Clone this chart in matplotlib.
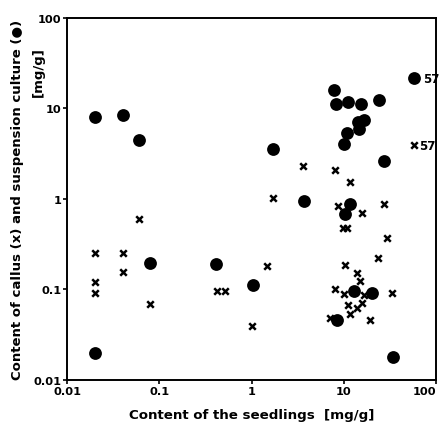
import matplotlib
matplotlib.use("Agg")
import matplotlib.pyplot as plt
import matplotlib.transforms as mtrans
from matplotlib.ticker import FixedLocator, NullLocator

# Suspension culture (filled circles)
circ_x = [0.02, 0.04, 0.06, 0.02, 0.08, 0.41, 1.04, 1.7, 3.7, 7.8, 8.3, 11.1, 15.3,
          24.2, 16.6, 14.1, 14.6, 10.8, 10.1, 27, 11.6, 10.2, 13, 20.2, 8.4, 33.8, 58]
circ_y = [8.0, 8.5, 4.5, 0.02, 0.195, 0.19, 0.113, 3.6, 0.96, 16, 11.2, 11.7, 11.2,
          12.4, 7.5, 7.1, 5.9, 5.3, 4.0, 2.65, 0.88, 0.68, 0.097, 0.091, 0.0465, 0.0178, 21.6]

# Callus (crosses)
cross_x = [0.02, 0.02, 0.02, 0.04, 0.04, 0.06, 0.08, 0.42, 0.52, 1.0, 1.46, 1.7, 3.64,
           7.9, 11.5, 8.7, 15.7, 27.3, 9.8, 10.7, 29.4, 23.2, 10.2, 13.7, 14.9, 8.0, 10.1,
           16.3, 33, 15.8, 11, 14, 11.7, 7.1, 19.3, 57]
cross_y = [0.25, 0.12, 0.091, 0.25, 0.157, 0.6, 0.07, 0.097, 0.097, 0.04, 0.183, 1.03, 2.33,
           2.09, 1.53, 0.83, 0.70, 0.88, 0.48, 0.48, 0.37, 0.224, 0.187, 0.152, 0.125, 0.10, 0.089,
           0.088, 0.091, 0.071, 0.067, 0.063, 0.054, 0.048, 0.0465, 3.9]

ticks = [0.01, 0.1, 1, 10, 100]
tick_labels = ["0.01", "0.1", "1", "10", "100"]
annot_text = "57"

fig = plt.figure(figsize=(4.47, 4.31), dpi=100)
ax = fig.add_axes([0.150, 0.116, 0.826, 0.840])
ax.set_xscale("log")
ax.set_yscale("log")
ax.set_xlim(0.01, 100)
ax.set_ylim(0.01, 100)

ax.scatter(circ_x, circ_y, s=85, c="black", marker="o", linewidths=0, zorder=3)
ax.scatter(cross_x, cross_y, s=22, c="black", marker="x", linewidths=1.8, zorder=4)

ax.annotate(annot_text, (circ_x[-1], circ_y[-1]), xytext=(6, 0), textcoords="offset points",
            va="center", ha="left", fontsize=8.5, fontweight="bold")
ax.annotate(annot_text, (cross_x[-1], cross_y[-1]), xytext=(4, 0), textcoords="offset points",
            va="center", ha="left", fontsize=8.5, fontweight="bold")

for axis in (ax.xaxis, ax.yaxis):
    axis.set_major_locator(FixedLocator(ticks))
    axis.set_minor_locator(NullLocator())
xlabs = ax.set_xticklabels(tick_labels, fontsize=8.2, fontweight="bold")
ax.set_yticklabels(tick_labels, fontsize=8.2, fontweight="bold")
xlabs[-1].set_horizontalalignment("right")
xlabs[-1].set_transform(xlabs[-1].get_transform() +
                        mtrans.ScaledTranslation(10 / 100, 0, fig.dpi_scale_trans))
ax.tick_params(direction="out", length=3, width=1.2, pad=1)
for sp in ax.spines.values():
    sp.set_linewidth(1.4)

ax.set_xlabel("Content of the seedlings  [mg/g]", fontsize=9.6, fontweight="bold", labelpad=9)
fig.text(0.040, 0.536, "Content of callus (x) and suspension culture (\u25cf)", rotation=90,
         ha="center", va="center", fontsize=9.5, fontweight="bold")
fig.text(0.085, 0.833, "[mg/g]", rotation=90, ha="center", va="center",
         fontsize=9.5, fontweight="bold")

fig.savefig("out.png", dpi=100)
